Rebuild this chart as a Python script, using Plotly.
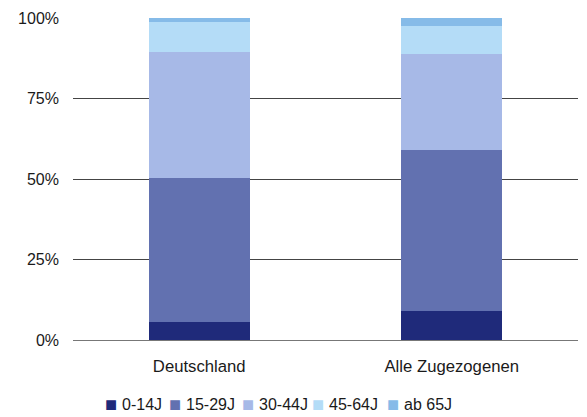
import plotly.graph_objects as go

# Anteile der Altersgruppen in Prozent
categories = ["Deutschland", "Alle Zugezogenen"]
age_groups = ["0-14J", "15-29J", "30-44J", "45-64J", "ab 65J"]
share_0_14 = [5.5, 9.1]
share_15_29 = [44.9, 49.8]
share_30_44 = [39.1, 30.0]
share_45_64 = [9.4, 8.7]
share_65 = [1.1, 2.4]
y_ticks = [0, 25, 50, 75, 100]
y_tick_labels = ["0%", "25%", "50%", "75%", "100%"]

colors = ["#1f2a7a", "#6271b0", "#a7b9e7", "#b4dcf7", "#86bbe8"]
series = [share_0_14, share_15_29, share_30_44, share_45_64, share_65]

# the page has an 8px body margin, so the figure is a bit smaller than the window
W, H = 579, 409
L, R, T, B = 65, 9, 10, 77
plot_w = W - L - R
plot_h = H - T - B

fig = go.Figure()
for name, vals, col in zip(age_groups, series, colors):
    fig.add_trace(go.Bar(x=categories, y=vals, name=name, showlegend=False,
                         marker=dict(color=col, line=dict(width=0))))

# legend drawn as text: square + label, laid out left to right
legend_x = [97, 161, 234, 304, 379]  # left edge of each square, px in figure
legend_y = -(396.5 - (H - B)) / plot_h
for x0, name, col in zip(legend_x, age_groups, colors):
    fig.add_annotation(x=(x0 - L - 2) / plot_w, y=legend_y, xref="paper", yref="paper",
                       xanchor="left", yanchor="middle", showarrow=False,
                       text=f'<span style="color:{col}">■</span>', font=dict(size=20, color=col))
    fig.add_annotation(x=(x0 + 15 - L) / plot_w, y=legend_y, xref="paper", yref="paper",
                       xanchor="left", yanchor="middle", showarrow=False,
                       text=name, font=dict(size=16))

fig.update_layout(
    barmode="stack",
    bargap=0.6,
    width=W,
    height=H,
    margin=dict(l=L, r=R, t=T, b=B),
    plot_bgcolor="white",
    paper_bgcolor="white",
    font=dict(family="Liberation Sans, Arial", size=16, color="#1a1a1a"),
    showlegend=False,
)
fig.update_yaxes(range=[0, 100], tickvals=y_ticks, ticktext=y_tick_labels,
                 showgrid=True, gridcolor="#444", gridwidth=1, zeroline=False,
                 ticklabelstandoff=13, automargin=False, fixedrange=True)
fig.update_xaxes(showline=True, linecolor="#777", linewidth=1, ticks="",
                 tickfont=dict(size=16.7), ticklabelstandoff=11, automargin=False)

fig.write_html("out.html")
